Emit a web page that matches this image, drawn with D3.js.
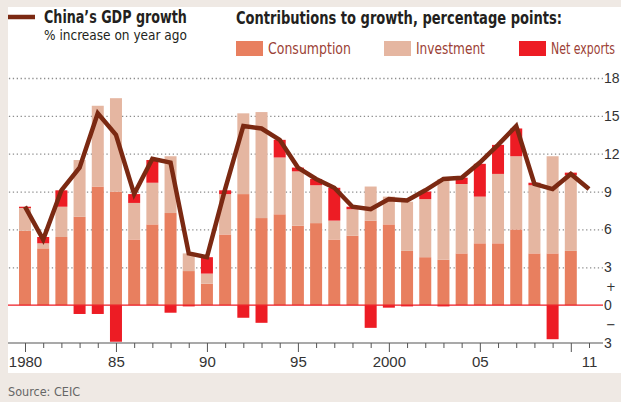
<!DOCTYPE html>
<html>
<head>
<meta charset="utf-8">
<script src="https://cdn.jsdelivr.net/npm/d3@7"></script>
<style>
  body { margin: 0; background: #efe9e4; }
  svg { display: block; font-family: "Liberation Sans Narrow", "DejaVu Sans Condensed", "Roboto Condensed", sans-serif; }
</style>
</head>
<body>
<div id="chart"></div>
<script>
// years with bars (1980-2010), GDP line runs to 2011
const years = d3.range(1980, 2011);
const consumption = [5.9, 4.5, 5.4, 7.0, 9.4, 9.0, 5.2, 6.4, 7.3, 2.7, 1.7,
  5.6, 8.8, 6.9, 7.2, 6.3, 6.5, 5.2, 5.5, 6.7, 6.4,
  4.3, 3.8, 3.6, 4.1, 4.9, 4.9, 6.0, 4.1, 4.1, 4.3];
const investment = [1.8, 0.4, 2.4, 4.5, 6.4, 7.4, 2.9, 3.3, 4.5, 1.4, 0.8,
  3.2, 6.4, 8.4, 4.5, 4.3, 3.0, 1.5, 2.1, 2.7, 2.2,
  3.9, 4.6, 6.4, 5.5, 3.7, 5.5, 5.8, 5.4, 7.7, 6.0];
const netExports = [0.1, 0.5, 1.3, -0.7, -0.7, -2.9, 0.7, 1.8, -0.6, -0.1, 1.3,
  0.3, -1.0, -1.4, 1.4, 0.3, 0.5, 2.6, 0.2, -1.8, -0.2,
  -0.1, 0.6, -0.1, 0.5, 2.6, 2.3, 2.2, 0.2, -2.7, 0.2];
const gdpYears = d3.range(1980, 2012);
const gdp = [7.8, 5.2, 9.1, 10.9, 15.2, 13.5, 8.8, 11.6, 11.3, 4.1, 3.8,
  9.2, 14.2, 14.0, 13.1, 10.9, 10.0, 9.3, 7.8, 7.6, 8.4,
  8.3, 9.1, 10.0, 10.1, 11.3, 12.7, 14.2, 9.6, 9.2, 10.4, 9.2];

const yTicks = [18, 15, 12, 9, 6, 3, 0, -3];
const yTickLabels = ["18", "15", "12", "9", "6", "3", "0", "3"];
const labelYears = [1980, 1985, 1990, 1995, 2000, 2005, 2011];
const labelTexts = ["1980", "85", "90", "95", "2000", "05", "11"];
const majorYears = [1980, 1985, 1990, 1995, 2000, 2005, 2010];

const colors = {
  consumption: "#e87f5f",
  investment: "#e5b6a1",
  net: "#ed1c24",
  gdp: "#7b2912"
};

const width = 621, height = 402;
const svg = d3.select("#chart").append("svg")
  .attr("width", width)
  .attr("height", height);

// squeeze a text horizontally to a given width (reference font is narrower)
function fitText(sel, x0, y0, w) {
  const natural = sel.node().getComputedTextLength();
  const k = Math.min(1, w / natural);
  sel.attr("x", 0).attr("y", 0)
    .attr("transform", `translate(${x0},${y0}) scale(${k},1)`);
}

// white panel
svg.append("rect")
  .attr("x", 8).attr("y", 7)
  .attr("width", width - 8).attr("height", 366)
  .attr("fill", "#fff");

const x = d3.scaleLinear().domain([1980, 2011]).range([25, 589]);
const y = d3.scaleLinear().domain([-3, 18]).range([343, 78]);
const barW = 12;

// gridlines + right labels
const yAxis = d3.axisRight(y)
  .tickValues(yTicks)
  .tickSize(-595)
  .tickPadding(1)
  .tickFormat((d, i) => yTickLabels[i]);

const gy = svg.append("g")
  .attr("transform", "translate(603,0)")
  .call(yAxis);
gy.select(".domain").remove();
gy.selectAll(".tick line")
  .attr("stroke", "#8c8c8c")
  .attr("stroke-width", 1.3)
  .attr("stroke-dasharray", "1.3,2.6")
  .filter(d => d === 0 || d === -3).remove();
gy.selectAll(".tick text")
  .attr("fill", "#333")
  .attr("font-size", 14)
  .attr("font-family", "inherit");

// + and - signs between labels
svg.append("text")
  .attr("x", 606).attr("y", y(1.5)).attr("dy", "0.35em")
  .attr("font-size", 13).attr("fill", "#333")
  .text("+");
svg.append("text")
  .attr("x", 606).attr("y", y(-1.5)).attr("dy", "0.35em")
  .attr("font-size", 13).attr("fill", "#333")
  .text("\u2212");

// stacked bars
const bars = svg.append("g");
years.forEach((yr, i) => {
  const c = consumption[i], inv = investment[i], nx = netExports[i];
  bars.append("rect")
    .attr("x", x(yr) - barW / 2).attr("width", barW)
    .attr("y", y(c)).attr("height", y(0) - y(c))
    .attr("fill", colors.consumption);
  bars.append("rect")
    .attr("x", x(yr) - barW / 2).attr("width", barW)
    .attr("y", y(c + inv)).attr("height", y(c) - y(c + inv))
    .attr("fill", colors.investment);
  if (nx >= 0) {
    bars.append("rect")
      .attr("x", x(yr) - barW / 2).attr("width", barW)
      .attr("y", y(c + inv + nx)).attr("height", y(c + inv) - y(c + inv + nx))
      .attr("fill", colors.net);
  } else {
    bars.append("rect")
      .attr("x", x(yr) - barW / 2).attr("width", barW)
      .attr("y", y(0)).attr("height", y(nx) - y(0))
      .attr("fill", colors.net);
  }
});

// zero line
svg.append("line")
  .attr("x1", 8).attr("x2", 603)
  .attr("y1", y(0)).attr("y2", y(0))
  .attr("stroke", colors.net).attr("stroke-width", 1.3);

// x axis
const xAxis = d3.axisBottom(x)
  .tickValues(gdpYears)
  .tickSize(5)
  .tickSizeOuter(0)
  .tickFormat(d => {
    const k = labelYears.indexOf(d);
    return k >= 0 ? labelTexts[k] : "";
  });
const gx = svg.append("g")
  .attr("transform", `translate(0,${y(-3)})`)
  .call(xAxis);
gx.select(".domain")
  .attr("d", `M8,0H603`)
  .attr("stroke", "#555").attr("stroke-width", 1.2);
gx.selectAll(".tick line")
  .attr("stroke", "#555")
  .attr("y2", d => majorYears.includes(d) ? 9 : 5);
gx.selectAll(".tick text")
  .attr("y", 13)
  .attr("fill", "#333")
  .attr("font-size", 15)
  .attr("font-family", "inherit");

// GDP line
const line = d3.line()
  .x((d, i) => x(gdpYears[i]))
  .y(d => y(d));
svg.append("path")
  .datum(gdp)
  .attr("d", line)
  .attr("fill", "none")
  .attr("stroke", colors.gdp)
  .attr("stroke-width", 4.5)
  .attr("stroke-linejoin", "miter");

// legend / titles
svg.append("line")
  .attr("x1", 8).attr("x2", 35).attr("y1", 17).attr("y2", 17)
  .attr("stroke", colors.gdp).attr("stroke-width", 4.5);
svg.append("text")
  .attr("font-size", 17).attr("font-weight", "bold").attr("fill", "#231f20")
  .text("China\u2019s GDP growth")
  .call(fitText, 44, 23, 143);
svg.append("text")
  .attr("font-size", 13.5).attr("fill", "#231f20")
  .text("% increase on year ago")
  .call(fitText, 44, 40, 143);
svg.append("text")
  .attr("font-size", 17).attr("font-weight", "bold").attr("fill", "#231f20")
  .text("Contributions to growth, percentage points:")
  .call(fitText, 236, 24, 326);

const legendItems = [
  { label: "Consumption", color: colors.consumption, x: 236, w: 83 },
  { label: "Investment", color: colors.investment, x: 384, w: 69 },
  { label: "Net exports", color: colors.net, x: 519, w: 64 }
];
const lg = svg.append("g").selectAll("g")
  .data(legendItems)
  .join("g")
  .attr("transform", d => `translate(${d.x},41)`);
lg.append("rect")
  .attr("width", 27).attr("height", 15)
  .attr("fill", d => d.color);
lg.append("text")
  .attr("font-size", 15).attr("fill", "#9c3f36")
  .text(d => d.label)
  .each(function (d) { fitText(d3.select(this), 32, 13, d.w); });

// source
svg.append("text")
  .attr("x", 8).attr("y", 396)
  .attr("font-size", 12.5).attr("fill", "#666")
  .text("Source: CEIC");
</script>
</body>
</html>
